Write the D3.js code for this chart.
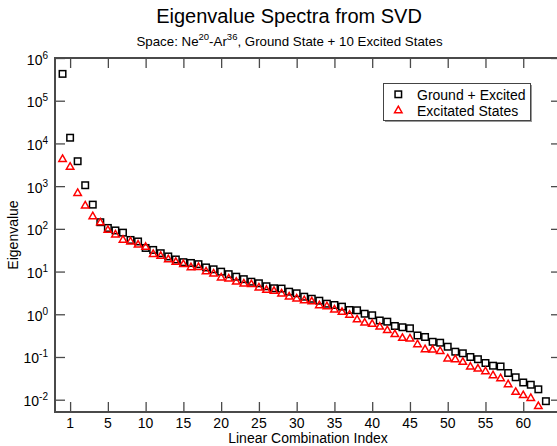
<!DOCTYPE html>
<html>
<head>
<meta charset="utf-8">
<script src="https://cdn.jsdelivr.net/npm/d3@7/dist/d3.min.js"></script>
<style>
  body { margin: 0; background: #fff; }
  svg text { font-family: "Liberation Sans", Arial, Helvetica, sans-serif; fill: #000; }
</style>
</head>
<body>
<div id="chart"></div>
<script>
// values (log scale)
const groundExcited = [
  4.25e5, 1.36e4, 3830, 1050, 369, 143, 105, 91.8, 81.5, 55.0,
  50.7, 35.7, 32.1, 26.9, 22.6, 19.2, 16.6, 15.9, 14.9, 12.5,
  11.3, 9.95, 8.69, 7.59, 6.64, 5.79, 5.32, 4.53, 4.06, 4.0,
  3.38, 3.10, 2.58, 2.31, 2.08, 1.77, 1.65, 1.51, 1.26, 1.24,
  1.03, 0.948, 0.716, 0.671, 0.532, 0.497, 0.470, 0.319, 0.294, 0.227,
  0.216, 0.174, 0.133, 0.122, 0.100, 0.0887, 0.0723, 0.0625, 0.060, 0.0422,
  0.0335, 0.0253, 0.0224, 0.0175, 0.00923
];
const excitedStates = [
  4370, 2880, 700, 357, 200, 143, 95.5, 74.8, 56.2, 51.3,
  43.2, 38.3, 26.1, 23.6, 19.7, 17.1, 15.1, 12.8, 12.9, 10.2,
  9.12, 7.36, 6.97, 5.86, 5.32, 5.13, 4.29, 3.77, 3.57, 3.10,
  2.64, 2.37, 2.16, 2.03, 1.65, 1.56, 1.31, 1.15, 0.989, 0.767,
  0.643, 0.603, 0.518, 0.429, 0.346, 0.283, 0.274, 0.201, 0.154, 0.151,
  0.140, 0.0933, 0.0897, 0.0776, 0.0605, 0.0543, 0.0470, 0.0378, 0.0322, 0.0233,
  0.0154, 0.0129, 0.0111, 0.00719
];
const xTickPos = [1, 6, 11, 16, 21, 26, 31, 36, 41, 46, 51, 56, 61];
const xTickLabels = ["1", "5", "10", "15", "20", "25", "30", "35", "40", "45", "50", "55", "60"];
const yTickExp = [-2, -1, 0, 1, 2, 3, 4, 5, 6];
const seriesNames = ["Ground + Excited", "Excitated States"];

const W = 557, H = 446;
const pLeft = 55, pTop = 58, pBottom = 412, pRight = 561;
const tick = 10;
const axisColor = "#4a4a4a";

const svg = d3.select("#chart").append("svg")
  .attr("width", W)
  .attr("height", H);

// scales
const x = d3.scaleLinear().domain([-1, 66]).range([pLeft, pRight]);
const y = d3.scaleLog().domain([Math.pow(10, -2.288), 1e6]).range([pBottom, pTop]);

// ticks on all four sides, pointing inward
const yTickVals = yTickExp.map(e => Math.pow(10, e));
svg.append("g")
  .attr("transform", "translate(" + pLeft + ",0)")
  .call(d3.axisLeft(y).tickValues(yTickVals).tickSize(-tick).tickFormat(() => ""));
svg.append("g")
  .attr("transform", "translate(" + pRight + ",0)")
  .call(d3.axisRight(y).tickValues(yTickVals).tickSize(-tick).tickFormat(() => ""));
svg.append("g")
  .attr("transform", "translate(0," + pBottom + ")")
  .call(d3.axisBottom(x).tickValues(xTickPos).tickSize(-tick).tickFormat(() => ""));
svg.append("g")
  .attr("transform", "translate(0," + pTop + ")")
  .call(d3.axisTop(x).tickValues(xTickPos).tickSize(-tick).tickFormat(() => ""));
svg.selectAll(".domain").remove();
svg.selectAll(".tick line").attr("stroke", axisColor).attr("stroke-width", 1.3);

// frame
svg.append("rect")
  .attr("x", pLeft).attr("y", pTop)
  .attr("width", pRight - pLeft).attr("height", pBottom - pTop)
  .attr("fill", "none")
  .attr("stroke", axisColor)
  .attr("stroke-width", 2);

// y tick labels 10^n
yTickExp.forEach(e => {
  const t = svg.append("text")
    .attr("x", 48)
    .attr("y", y(Math.pow(10, e)) + 6.5)
    .attr("text-anchor", "end")
    .style("font-size", "14px");
  t.append("tspan").text("10");
  t.append("tspan").attr("dy", -6).style("font-size", "10px").text(e < 0 ? "-" + (-e) : e);
});

// x tick labels
svg.selectAll(".xlab").data(xTickPos).enter()
  .append("text")
  .attr("class", "xlab")
  .attr("x", d => x(d))
  .attr("y", pBottom + 16)
  .attr("text-anchor", "middle")
  .style("font-size", "14px")
  .text((d, i) => xTickLabels[i]);

// axis titles
svg.append("text")
  .attr("x", (pLeft + pRight) / 2)
  .attr("y", 443)
  .attr("text-anchor", "middle")
  .style("font-size", "14px")
  .text("Linear Combination Index");

svg.append("text")
  .attr("transform", "translate(18," + ((pTop + pBottom) / 2) + ") rotate(-90)")
  .attr("text-anchor", "middle")
  .style("font-size", "14px")
  .text("Eigenvalue");

// titles
svg.append("text")
  .attr("x", 289)
  .attr("y", 23)
  .attr("text-anchor", "middle")
  .style("font-size", "20px")
  .text("Eigenvalue Spectra from SVD");

const sub = svg.append("text")
  .attr("x", 289.5)
  .attr("y", 46)
  .attr("text-anchor", "middle")
  .style("font-size", "13.3px");
sub.append("tspan").text("Space: Ne");
sub.append("tspan").attr("dy", -6).style("font-size", "9.5px").text("20");
sub.append("tspan").attr("dy", 6).text("-Ar");
sub.append("tspan").attr("dy", -6).style("font-size", "9.5px").text("36");
sub.append("tspan").attr("dy", 6).text(", Ground State + 10 Excited States");

// markers
const sq = 6.5;
const triangle = d3.symbol().type(d3.symbolTriangle).size(24);

svg.append("g").selectAll("rect")
  .data(groundExcited)
  .enter()
  .append("rect")
  .attr("x", (d, i) => x(i) - sq / 2)
  .attr("y", d => y(d) - sq / 2)
  .attr("width", sq)
  .attr("height", sq)
  .attr("fill", "none")
  .attr("stroke", "#000")
  .attr("stroke-width", 1.5);

svg.append("g").selectAll("path")
  .data(excitedStates)
  .enter()
  .append("path")
  .attr("d", triangle)
  .attr("transform", (d, i) => "translate(" + x(i) + "," + (y(d) + 0.5) + ")")
  .attr("fill", "none")
  .attr("stroke", "#ff0000")
  .attr("stroke-width", 1.5);

// legend
const lg = svg.append("g");
lg.append("rect")
  .attr("x", 385).attr("y", 85)
  .attr("width", 147).attr("height", 37)
  .attr("fill", "#999");
lg.append("rect")
  .attr("x", 383.5).attr("y", 83.5)
  .attr("width", 147).attr("height", 37)
  .attr("fill", "#fff")
  .attr("stroke", "#444")
  .attr("stroke-width", 1);
lg.append("rect")
  .attr("x", 398.3 - sq / 2).attr("y", 94.3 - sq / 2)
  .attr("width", sq).attr("height", sq)
  .attr("fill", "none")
  .attr("stroke", "#000")
  .attr("stroke-width", 1.5);
lg.append("path")
  .attr("d", triangle)
  .attr("transform", "translate(398.3,110.5)")
  .attr("fill", "none")
  .attr("stroke", "#ff0000")
  .attr("stroke-width", 1.5);
lg.selectAll(".ltxt").data(seriesNames).enter()
  .append("text")
  .attr("class", "ltxt")
  .attr("x", 417)
  .attr("y", (d, i) => 99.5 + i * 16)
  .style("font-size", "14px")
  .text(d => d);
</script>
</body>
</html>
